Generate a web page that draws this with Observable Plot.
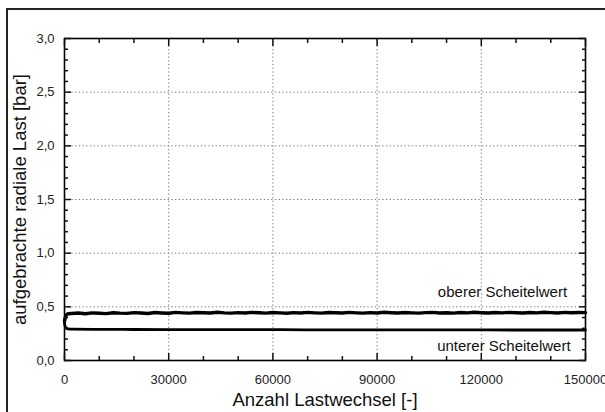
<!DOCTYPE html>
<html>
<head>
<meta charset="utf-8">
<script src="https://cdn.jsdelivr.net/npm/d3@7"></script>
<script src="https://cdn.jsdelivr.net/npm/@observablehq/plot@0.6"></script>
<style>
  html, body { margin: 0; padding: 0; background: #fff; overflow: hidden; }
  #wrap { position: relative; width: 605px; height: 412px; overflow: hidden; }
  #border { position: absolute; left: 6px; top: 8px; width: 700px; height: 500px; border: 2px solid #222; box-sizing: border-box; }
  #chart { position: absolute; left: 0; top: 0; width: 620px; height: 412px; }
  #chart svg { max-width: none !important; }
</style>
</head>
<body>
<div id="wrap"><div id="border"></div><div id="chart"></div></div>
<script>
// ---- data ----
const xMajor = [0, 30000, 60000, 90000, 120000, 150000];
const xMinor = [10000, 20000, 40000, 50000, 70000, 80000, 100000, 110000, 130000, 140000];
const yMajor = [0, 0.5, 1.0, 1.5, 2.0, 2.5, 3.0];
const yMinor = [0.1,0.2,0.3,0.4,0.6,0.7,0.8,0.9,1.1,1.2,1.3,1.4,1.6,1.7,1.8,1.9,2.1,2.2,2.3,2.4,2.6,2.7,2.8,2.9];
const xGrid = [30000, 60000, 90000, 120000];
const yGrid = [0.5, 1.0, 1.5, 2.0, 2.5];

// upper peak value (oberer Scheitelwert)
const upperX = [0, 200, 500, 1000,
  2000,4000,6000,8000,10000,12000,14000,16000,18000,20000,
  22000,24000,26000,28000,30000,32000,34000,36000,38000,40000,
  42000,44000,46000,48000,50000,52000,54000,56000,58000,60000,
  62000,64000,66000,68000,70000,72000,74000,76000,78000,80000,
  82000,84000,86000,88000,90000,92000,94000,96000,98000,100000,
  102000,104000,106000,108000,110000,112000,114000,116000,118000,120000,
  122000,124000,126000,128000,130000,132000,134000,136000,138000,140000,
  142000,144000,146000,148000,150000];
const upperY = [0.365, 0.40, 0.425, 0.435,
  0.438,0.442,0.436,0.444,0.440,0.437,0.445,0.441,0.439,0.446,
  0.442,0.438,0.447,0.443,0.440,0.448,0.444,0.441,0.447,0.445,
  0.442,0.449,0.444,0.441,0.446,0.443,0.448,0.445,0.441,0.447,
  0.444,0.440,0.446,0.443,0.448,0.444,0.441,0.447,0.445,0.442,
  0.448,0.444,0.441,0.446,0.443,0.449,0.445,0.442,0.447,0.444,
  0.441,0.446,0.448,0.443,0.445,0.441,0.447,0.444,0.449,0.445,
  0.442,0.447,0.444,0.448,0.445,0.442,0.447,0.444,0.449,0.446,
  0.443,0.448,0.445,0.447,0.446];

// lower peak value (unterer Scheitelwert)
const lowerX = [0, 200, 500, 1000, 2000, 10000, 20000, 30000, 40000, 50000, 60000, 70000, 80000, 90000, 100000, 110000, 120000, 130000, 140000, 150000];
const lowerY = [0.345, 0.318, 0.302, 0.295, 0.292, 0.290, 0.289, 0.288, 0.288, 0.287, 0.287, 0.286, 0.286, 0.286, 0.285, 0.285, 0.285, 0.284, 0.284, 0.284];

const annotText = ["oberer Scheitelwert", "unterer Scheitelwert"];
const annotX = [144700, 145700];
const annotY = [0.59, 0.093];

const xTitle = "Anzahl Lastwechsel [-]";
const yTitle = "aufgebrachte radiale Last [bar]";

// ---- build ----
const upper = upperX.map((x, i) => ({x, y: upperY[i]}));
const lower = lowerX.map((x, i) => ({x, y: lowerY[i]}));
const annots = annotText.map((t, i) => ({t, x: annotX[i], y: annotY[i]}));
const fmtY = d => d.toFixed(1).replace(".", ",");
const noText = () => "";

const chart = Plot.plot({
  width: 620,
  height: 412,
  marginLeft: 64,
  marginRight: 35,
  marginTop: 38,
  marginBottom: 52,
  style: {fontFamily: "'Liberation Sans', Arial, sans-serif", background: "transparent", color: "#111", maxWidth: "none"},
  x: {domain: [0, 150000]},
  y: {domain: [0, 3]},
  marks: [
    Plot.gridX(xGrid, {stroke: "#777", strokeOpacity: 1, strokeDasharray: "1.3,2.4", strokeWidth: 1}),
    Plot.gridY(yGrid, {stroke: "#777", strokeOpacity: 1, strokeDasharray: "1.3,2.4", strokeWidth: 1}),
    Plot.line(lower, {x: "x", y: "y", stroke: "#000", strokeWidth: 2.8, curve: "monotone-x"}),
    Plot.line(upper, {x: "x", y: "y", stroke: "#000", strokeWidth: 3.4}),
    Plot.frame({stroke: "#000", strokeWidth: 1.6}),
    // ticks inward, all four sides
    Plot.axisX(xMajor, {anchor: "bottom", tickSize: -7, tickFormat: noText, label: null, strokeWidth: 1.5}),
    Plot.axisX(xMinor, {anchor: "bottom", tickSize: -4, tickFormat: noText, label: null, strokeWidth: 1.5}),
    Plot.axisX(xMajor, {anchor: "top", tickSize: -7, tickFormat: noText, label: null, strokeWidth: 1.5}),
    Plot.axisX(xMinor, {anchor: "top", tickSize: -4, tickFormat: noText, label: null, strokeWidth: 1.5}),
    Plot.axisY(yMajor, {anchor: "left", tickSize: -7, tickFormat: noText, label: null, strokeWidth: 1.5}),
    Plot.axisY(yMinor, {anchor: "left", tickSize: -4, tickFormat: noText, label: null, strokeWidth: 1.5}),
    Plot.axisY(yMajor, {anchor: "right", tickSize: -7, tickFormat: noText, label: null, strokeWidth: 1.5}),
    Plot.axisY(yMinor, {anchor: "right", tickSize: -4, tickFormat: noText, label: null, strokeWidth: 1.5}),
    // tick labels
    Plot.axisX(xMajor, {anchor: "bottom", tickSize: 0, tickPadding: 14, fontSize: 13, label: null, tickFormat: d => String(d), fill: "#222"}),
    Plot.axisY(yMajor, {anchor: "left", tickSize: 0, tickPadding: 10, fontSize: 13, label: null, tickFormat: fmtY, fill: "#222"}),
    // annotations
    Plot.text(annots, {x: "x", y: "y", text: "t", textAnchor: "end", lineAnchor: "bottom", fontSize: 15, fill: "#111"}),
    // axis titles
    Plot.text([xTitle], {frameAnchor: "bottom", textAnchor: "middle", lineAnchor: "middle", dy: 40, fontSize: 18.5, fill: "#111"}),
    Plot.text([yTitle], {frameAnchor: "left", textAnchor: "middle", lineAnchor: "middle", dx: -44, rotate: -90, fontSize: 18.5, fill: "#111"})
  ]
});
chart.style.maxWidth = "none";
document.getElementById("chart").appendChild(chart);
</script>
</body>
</html>
